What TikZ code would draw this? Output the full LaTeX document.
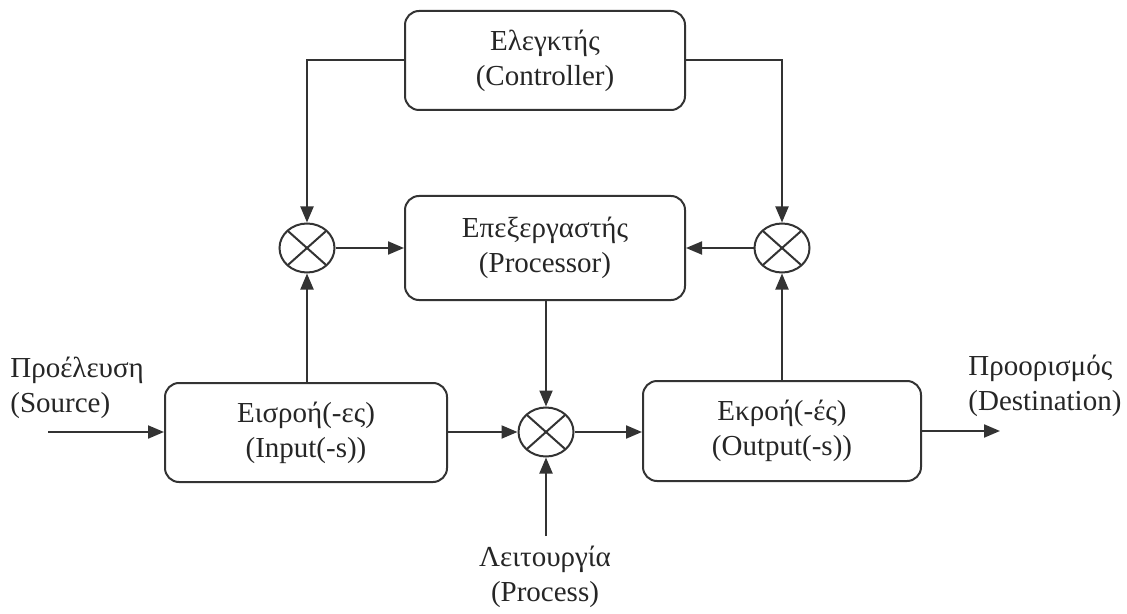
\documentclass[tikz,border=0pt]{standalone}
\usepackage{fontspec}
\setmainfont{Liberation Serif}
\usetikzlibrary{arrows.meta,shapes.geometric}
\begin{document}
\begin{tikzpicture}[x=0.5pt,y=-0.5pt,
  ink/.style={draw=black!80, line width=1pt},
  txt/.style={font=\fontsize{14.5}{17.5}\selectfont, text=black!85},
  block/.style={ink, txt, rounded corners=7pt, minimum width=140pt,
    minimum height=50pt, inner sep=0pt, align=center},
  mixer/.style={ink, ellipse, minimum width=27.5pt, minimum height=24.5pt,
    inner sep=0pt, path picture={
      \draw[black!80, line width=1pt]
        (path picture bounding box.north west) -- (path picture bounding box.south east)
        (path picture bounding box.north east) -- (path picture bounding box.south west);}},
  flow/.style={ink, -{Triangle[length=8pt,width=6.5pt]}},
  tag/.style={txt, inner sep=0pt}
]
\useasboundingbox (0,0) rectangle (1127,614);

% blocks
\node[block, minimum height=49.5pt] (ctrl) at (545,60.5) {Ελεγκτής\\(Controller)};
\node[block, minimum height=52pt] (proc) at (545,248) {Επεξεργαστής\\(Processor)};
\node[block, minimum width=141pt, minimum height=49.5pt] (inp) at (306,432.5) {Εισροή(-ες)\\(Input(-s))};
\node[block, minimum width=139pt] (out) at (782,431) {Εκροή(-ές)\\(Output(-s))};

% mixing junctions
\node[mixer] (L) at (307,248) {};
\node[mixer] (R) at (782,248) {};
\node[mixer] (M) at (546,432) {};

% outer labels and free ends
\node[tag, align=left, anchor=west] (src) at (10,388) {Προέλευση\\(Source)};
\node[tag, align=left, anchor=west] (dst) at (968,386) {Προορισμός\\(Destination)};
\node[tag, align=center] (prs) at (545,577) {Λειτουργία\\(Process)};
\coordinate (srcend) at (48,432);
\coordinate (dstend) at (1000,431);
\coordinate (prcend) at (546,536);

% connections
\draw[flow] (ctrl.west) -| (L.north);
\draw[flow] (ctrl.east) -| (R.north);
\draw[flow] (L.east) -- (proc.west);
\draw[flow] (R.west) -- (proc.east);
\draw[flow] (inp.north -| L) -- (L.south);
\draw[flow] (out.north -| R) -- (R.south);
\draw[flow] (proc.south -| M) -- (M.north);
\draw[flow] (inp.east |- M) -- (M.west);
\draw[flow] (M.east) -- (out.west |- M);
\draw[flow] (srcend) -- (srcend -| inp.west);
\draw[flow] (out.east) -- (dstend);
\draw[flow] (prcend) -- (M.south);
\end{tikzpicture}
\end{document}
